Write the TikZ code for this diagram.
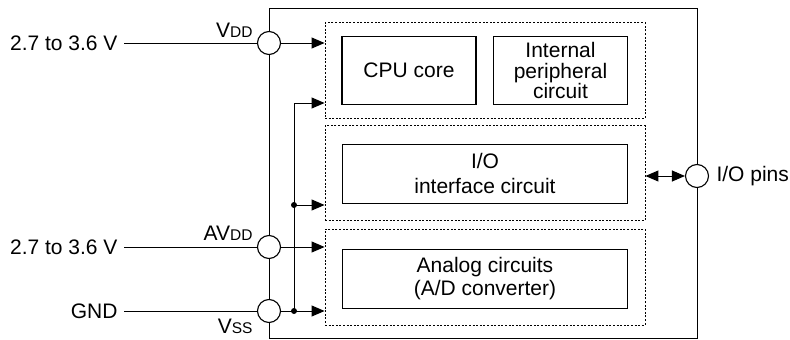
\documentclass[tikz,border=0pt]{standalone}
\usepackage{fontspec}
\setmainfont{Liberation Sans}
\usetikzlibrary{arrows.meta}
\newcommand{\sm}[1]{{\fontsize{15.5}{15.5}\selectfont #1}}
\begin{document}
\begin{tikzpicture}[x=1pt,y=-1pt,
  font=\fontsize{21}{23}\selectfont,
  line width=1pt,
  arr/.style={-{Triangle[length=13pt,width=11pt]}},
  dbox/.style={draw, line width=0.9pt, dash pattern=on 2pt off 1.6pt, inner sep=0pt},
  sbox/.style={draw, line width=1.1pt, align=center, inner sep=0pt},
  pin/.style={draw, circle, fill=white, line width=1.1pt, minimum size=23pt, inner sep=0pt},
  lbl/.style={anchor=base east, inner sep=0pt},
  src/.style={anchor=east, inner xsep=6pt, inner ysep=0pt}]
\useasboundingbox (0,0) rectangle (790,340);
% outer frame
\draw (269,8) rectangle (697,338);
% dashed groups
\node[dbox, minimum width=320pt, minimum height=95.5pt] (g1) at (485,70.4) {};
\node[dbox, minimum width=320pt, minimum height=95pt] (g2) at (485,173) {};
\node[dbox, minimum width=320pt, minimum height=96pt] (g3) at (485,277) {};
% inner blocks
\node[sbox, minimum width=134pt, minimum height=68pt] (cpu) at (409,70.7) {CPU core};
\node[sbox, minimum width=134pt, minimum height=68pt, font=\fontsize{21}{20.5}\selectfont] (per) at (560.5,70.7) {Internal\\peripheral\\circuit};
\node[sbox, minimum width=285pt, minimum height=59pt, font=\fontsize{21}{25}\selectfont] (io) at (485,173.7) {I/O\\interface circuit};
\node[sbox, minimum width=285pt, minimum height=59pt, font=\fontsize{21}{23}\selectfont] (adc) at (485,278.8) {Analog circuits\\(A/D converter)};
% pins
\node[pin] (pvdd) at (269,43) {};
\node[pin] (pavdd) at (269,247) {};
\node[pin] (pvss) at (269,311) {};
\node[pin] (pio) at (697,176) {};
% pin labels
\node[lbl] (lvdd) at (253,37.7) {V\sm{DD}};
\node[lbl] (lavdd) at (253,240.7) {AV\sm{DD}};
\node[lbl] (lvss) at (253,333.3) {V\sm{SS}};
\node[anchor=west, inner sep=0pt] (lio) at (716,176) {I/O pins};
% sources
\node[src] (s1) at (124,43) {2.7 to 3.6 V};
\node[src] (s2) at (124,247) {2.7 to 3.6 V};
\node[src] (s3) at (124,311) {GND};
\draw (s1.east) -- (pvdd.west);
\draw (s2.east) -- (pavdd.west);
\draw (s3.east) -- (pvss.west);
% internal bus
\coordinate (b1) at (294,103);
\coordinate (b2) at (294,205);
\coordinate (b3) at (294,311);
\draw[arr] (pvdd.east) -- (pvdd.east -| g1.west);
\draw[arr] (b3) |- (b1 -| g1.west);
\draw[arr] (b2) -- (b2 -| g2.west);
\draw[arr] (pavdd.east) -- (pavdd.east -| g3.west);
\draw[arr] (pvss.east) -- (pvss.east -| g3.west);
\fill (b2) circle (3pt);
\fill (b3) circle (3pt);
% I/O
\draw[{Triangle[length=13pt,width=11pt]}-{Triangle[length=13pt,width=11pt]}] (pio.west -| g2.east) -- (pio.west);
\end{tikzpicture}
\end{document}
